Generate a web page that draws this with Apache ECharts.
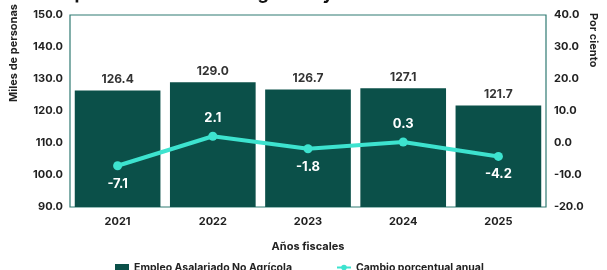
<!DOCTYPE html>
<html>
<head>
<meta charset="utf-8">
<script src="https://cdn.jsdelivr.net/npm/echarts@6/dist/echarts.min.js"></script>
<style>
html,body{margin:0;padding:0;background:#fff;}
#c{width:607px;height:270px;}
</style>
</head>
<body>
<div id="c"></div>
<script>
var titleText = 'Empleo Asalariado No Agrícola y Cambio Porcentual Anual';
var categories = ['2021', '2022', '2023', '2024', '2025'];
var employment = [126.4, 129.0, 126.7, 127.1, 121.7];
var pctChange = [-7.1, 2.1, -1.8, 0.3, -4.2];
var leftTicks = {min: 90, max: 150, interval: 10};
var rightTicks = {min: -20, max: 40, interval: 10};
var seriesNames = ['Empleo Asalariado No Agrícola', 'Cambio porcentual anual'];
var xName = 'Años fiscales';
var leftName = 'Miles de personas';
var rightName = 'Por ciento';

var FONT = 'Inter, "Open Sans", sans-serif';
var chart = echarts.init(document.getElementById('c'), null, {renderer: 'canvas'});
var labelPos = pctChange.map(function (v, i) { return (i % 2 === 1) ? 'top' : 'bottom'; });

chart.setOption({
  animation: false,
  backgroundColor: '#ffffff',
  title: {
    text: titleText, left: 'center', top: -20,
    textStyle: {fontFamily: FONT, fontWeight: 'bold', fontSize: 18, color: '#111'}
  },
  grid: {left: 70, right: 61, top: 15, bottom: 63, show: true, borderColor: '#2f7a72', borderWidth: 1.2, backgroundColor: 'transparent'},
  legend: {
    top: 257, left: 110, itemGap: 44, itemWidth: 14, itemHeight: 7,
    textStyle: {fontFamily: FONT, fontWeight: 'bold', fontSize: 10.5, color: '#222'},
    data: [{name: seriesNames[0], icon: 'rect'}, {name: seriesNames[1]}]
  },
  xAxis: {
    type: 'category', data: categories,
    axisLine: {show: false}, axisTick: {show: false},
    axisLabel: {fontFamily: FONT, fontWeight: 'bold', fontSize: 11, color: '#222', margin: 9},
    name: xName, nameLocation: 'middle', nameGap: 34,
    nameTextStyle: {fontFamily: FONT, fontWeight: 'bold', fontSize: 11, color: '#222'}
  },
  yAxis: [{
    type: 'value', min: leftTicks.min, max: leftTicks.max, interval: leftTicks.interval,
    axisLine: {show: false}, axisTick: {show: false}, splitLine: {show: false},
    axisLabel: {fontFamily: FONT, fontWeight: 'bold', fontSize: 11, color: '#222', margin: 7,
      formatter: function (v) { return v.toFixed(1); }}
  }, {
    type: 'value', min: rightTicks.min, max: rightTicks.max, interval: rightTicks.interval,
    axisLine: {show: false}, axisTick: {show: false}, splitLine: {show: false},
    axisLabel: {fontFamily: FONT, fontWeight: 'bold', fontSize: 11, color: '#222', margin: 8,
      formatter: function (v) { return v.toFixed(1); }}
  }],
  graphic: [{
    type: 'text', left: 8, top: 4, rotation: Math.PI / 2,
    style: {text: leftName, font: 'bold 11px ' + FONT, fill: '#222'}
  }, {
    type: 'text', left: 588, top: 13, rotation: -Math.PI / 2,
    style: {text: rightName, font: 'bold 11px ' + FONT, fill: '#222'}
  }],
  series: [{
    name: seriesNames[0], type: 'bar', data: employment, yAxisIndex: 0,
    barWidth: '90%',
    itemStyle: {color: '#0b5049'},
    label: {show: true, position: 'top', distance: 5, fontFamily: FONT, fontWeight: 'bold', fontSize: 12, color: '#333',
      formatter: function (p) { return p.value.toFixed(1); }}
  }, {
    name: seriesNames[1], type: 'line', data: pctChange.map(function (v, i) {
      return {value: v, label: {position: labelPos[i]}};
    }), yAxisIndex: 1,
    symbol: 'circle', symbolSize: 9,
    lineStyle: {color: '#3de3cf', width: 4},
    itemStyle: {color: '#3de3cf'},
    label: {show: true, distance: 7, fontFamily: FONT, fontWeight: 'bold', fontSize: 13, color: '#ffffff',
      formatter: function (p) { return p.value.toFixed(1); }}
  }]
});
</script>
</body>
</html>
